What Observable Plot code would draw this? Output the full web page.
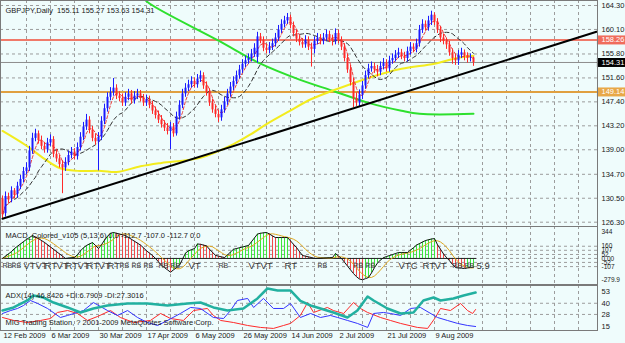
<!DOCTYPE html>
<html><head><meta charset="utf-8">
<script src="https://cdn.jsdelivr.net/npm/d3@7"></script>
<script src="https://cdn.jsdelivr.net/npm/@observablehq/plot@0.6"></script>
<style>
body{margin:0;background:#effcfc;}
#wrap{position:relative;width:625px;height:343px;overflow:hidden;background:#effcfc;}
#wrap > div{position:absolute;left:0;}
svg{display:block}
</style></head><body>
<div id="wrap"><div id="p1" style="top:0"></div><div id="p2" style="top:226px"></div><div id="p3" style="top:285px"></div></div>
<script>
// ---------- DATA (bar index 0..157, daily GBPJPY) ----------
const openP = [130.4,127.8,130.8,130.4,131.8,131.2,132.6,133.8,135.2,135.8,
138.8,141.0,141.8,140.6,139.6,139.0,140.2,140.8,138.2,137.4,
136.4,135.8,136.8,138.0,138.6,137.8,139.4,141.2,143.0,144.2,
142.4,141.0,140.4,141.2,144.0,146.2,148.2,149.0,149.8,148.4,
148.0,147.2,148.2,148.8,147.6,148.4,148.8,148.0,147.2,147.8,
146.8,145.8,145.0,144.2,143.4,142.8,142.2,143.0,141.8,144.8,
146.8,148.8,149.8,150.4,151.0,150.4,151.4,152.0,150.2,149.0,
147.2,146.0,145.2,144.6,146.0,147.4,148.8,150.0,151.0,152.0,
153.0,154.0,154.6,155.0,155.8,155.2,158.8,158.2,156.8,156.4,
157.0,157.6,158.6,160.0,161.0,161.6,162.2,160.8,159.4,158.4,
157.8,157.4,158.2,157.0,156.6,158.0,158.6,158.0,158.6,159.2,
158.4,158.0,159.4,158.2,157.0,155.0,153.0,150.8,148.0,147.2,
148.6,150.2,152.0,153.2,153.6,153.0,152.6,153.6,154.2,153.2,
154.6,155.0,155.6,156.0,155.4,155.0,156.2,157.0,156.6,157.6,
160.0,161.0,160.4,161.6,162.6,161.4,160.0,158.6,158.0,157.4,
156.0,155.0,154.6,155.6,156.0,155.4,155.0,155.11];
const closeP = [127.6,130.8,130.2,131.8,131.0,132.6,133.8,135.2,135.8,138.8,
141.0,141.8,140.6,139.6,139.0,140.2,140.8,138.2,137.4,136.4,
135.8,136.8,138.0,138.6,137.8,139.4,141.2,143.0,144.2,142.4,
141.0,140.4,141.2,144.0,146.2,148.2,149.0,149.8,148.4,148.0,
147.2,148.2,148.8,147.6,148.4,148.8,148.0,147.2,147.8,146.8,
145.8,145.0,144.2,143.4,142.8,142.2,143.0,141.8,144.8,146.8,
148.8,149.8,150.4,151.0,150.4,151.4,152.0,150.2,149.0,147.2,
146.0,145.2,144.6,146.0,147.4,148.8,150.0,151.0,152.0,153.0,
154.0,154.6,155.0,155.8,156.8,158.8,158.2,156.8,156.4,157.0,
157.6,158.6,160.0,161.0,161.6,162.2,160.8,159.4,158.4,157.8,
157.4,158.2,157.0,156.6,158.0,158.6,158.0,158.6,159.2,158.4,
158.0,159.4,158.2,157.0,155.0,153.0,150.8,148.0,147.2,148.6,
150.2,152.0,153.2,153.6,153.0,152.6,153.6,154.2,153.2,154.6,
155.0,155.6,156.0,155.4,155.0,156.2,157.0,156.6,157.6,160.0,
161.0,160.4,161.6,162.6,161.4,160.0,158.6,158.0,157.4,156.0,
155.0,154.6,155.6,156.0,155.4,155.0,155.11,154.31];
const highP = [130.9,131.6,131.4,132.5,132.2,133.3,134.5,135.9,136.7,139.6,
141.9,142.6,142.3,141.4,140.3,141.0,141.6,141.3,139.0,138.0,
137.1,137.6,138.8,139.4,139.2,140.2,142.0,143.8,145.2,144.8,
143.1,141.8,142.0,144.8,147.0,149.0,149.9,151.5,150.4,149.2,
148.8,149.0,149.6,149.4,149.2,149.6,149.4,148.7,148.6,148.4,
147.5,146.5,145.8,145.0,144.1,143.6,143.8,143.6,145.6,147.6,
149.6,150.6,151.2,151.8,151.6,152.2,152.8,152.5,150.9,149.7,
147.9,146.7,145.9,146.8,148.2,149.6,150.8,151.8,152.8,153.8,
154.8,155.4,155.8,156.6,157.6,159.6,159.4,158.8,157.5,157.8,
158.4,159.4,160.8,161.8,162.4,162.9,162.6,161.4,160.0,159.0,
158.5,159.0,158.8,157.7,158.8,159.4,159.2,159.4,160.0,159.8,
159.1,160.2,160.0,158.8,157.6,155.7,153.8,151.5,149.0,149.5,
151.0,152.8,154.0,154.4,154.2,153.8,154.4,155.0,154.8,155.4,
155.8,156.4,156.8,156.6,156.1,157.0,157.8,157.6,158.4,160.8,
161.8,161.6,162.4,163.3,163.0,162.0,160.6,159.3,158.6,158.0,
156.7,155.8,156.4,156.8,156.5,156.0,155.8,155.27];
const lowP = [126.9,127.2,129.6,129.7,130.4,130.5,132.0,133.2,134.6,135.2,
138.2,140.4,140.0,139.0,138.4,138.4,139.6,137.6,136.8,135.8,
131.3,135.2,136.2,137.4,137.2,137.2,138.8,140.6,142.4,141.8,
140.4,139.8,135.3,140.6,143.4,145.6,147.6,148.4,147.8,147.4,
146.6,146.6,147.6,147.0,147.0,147.8,147.4,146.6,146.6,146.2,
145.2,144.4,143.6,142.8,142.2,141.6,139.0,141.2,141.4,144.2,
146.2,148.2,149.2,149.8,149.8,149.8,150.8,149.6,148.4,146.6,
145.4,144.6,143.8,144.0,145.4,146.8,148.2,149.4,150.4,151.4,
152.4,153.4,154.0,154.4,155.2,154.2,157.6,156.2,155.8,155.8,
156.4,157.0,158.0,159.4,160.4,161.0,160.2,158.8,157.8,157.2,
156.8,156.8,156.4,153.5,155.8,157.4,157.4,157.4,158.0,157.8,
157.2,157.4,157.6,156.4,154.4,152.4,150.2,146.4,146.6,146.6,
147.8,149.6,151.4,152.6,152.4,151.8,152.0,153.0,152.6,152.6,
154.0,154.4,155.0,154.8,154.4,154.4,155.6,156.0,156.0,157.0,
159.4,159.8,159.8,160.8,160.8,159.4,157.8,157.4,156.6,155.4,
154.0,153.8,153.8,155.0,154.6,154.2,154.4,153.63];

// long moving averages (bar index, price)
const yellowIdx = [0,8,14,19,25,33,38,46,53,66,77,83,88,95,103,110,122,133,144,152,157];
const yellowVal = [142.3,139.7,137.4,135.8,135.3,135.3,135.1,136.1,136.7,137.6,140.0,141.8,143.5,145.6,147.9,149.35,151.6,153.2,154.1,155.15,155.5];
const greenIdx = [46,49,72,86,99,110,122,133,139,157];
const greenVal = [166.1,164.65,158.14,154.1,151.3,149.35,147.23,145.83,145.3,145.3];
const trendIdx = [0,198];
const trendVal = [126.9,159.7];

// horizontal levels
const levelVal = [158.26,154.31,149.14];
const levelLabel = ["158.26","154.31","149.14"];
const levelLineColor = ["#f07a6a","#8c8c8c","#e0a040"];
const levelLineWidth = [2,1,2];
const levelBoxColor = ["#f06c5c","#000000","#e8a848"];

const priceTicks = [164.30,160.10,155.80,151.60,147.40,143.20,139.00,134.70,130.50,126.30];

// MACD histogram (5,13,6)
const macdHist = [0,30,60,90,130,160,190,220,250,275,
300,280,260,235,210,180,150,120,90,60,
30,0,5,10,12,50,100,140,170,190,
208,170,130,180,240,290,330,340,330,320,
310,300,275,250,225,200,175,140,100,70,
38,0,-45,-90,-120,-150,-180,-150,-120,-90,
-10,70,100,115,130,190,185,175,165,120,
80,40,30,20,12,45,85,120,130,140,
150,160,170,220,270,320,330,336,340,320,
295,274,274,274,274,274,230,185,143,90,
38,30,20,12,0,2,4,6,8,10,
12,64,30,0,-50,-100,-150,-198,-240,-270,
-279,-265,-250,-190,-120,-60,-20,10,25,38,
50,65,77,77,77,77,110,140,175,195,
215,235,245,255,260,180,120,60,12,-30,
-80,-120,-125,-128,-132,-125,-118,-112.7];
const macdTicks = [344,160,107,52,0,-52,-107,-279.9];
const macdTickLabel = ["344","160","107","52","0.00","-52","-107","-279.9"];
const sigIdx = [0,3,7,11,14,18,21,25,28,32,35,39,43,47,52,56,62,72,82,86,94,105,117,121,132,140,144,150,154,158];
const sigText = ["RB","RB","VT","VT","RT","VT","RT","VT","RT","VT","RT","RB","RB","RB","RB","RB","VT","RB","VT","VT","RT","RB","RB","RB","VTC","RT","VT","RB","RB","5.9"];

// ADX(14)
const adxIdx = [0,3.7,8.3,10.3,13.7,17,21.7,26,30.3,35,41.7,48.3,55,61.7,66,70.3,75,80.3,85,88.3,91.7,96,99.3,102.7,106,110.3,115,118.3,121.7,123.7,128.3,132.7,137,140.3,143.7,146,150.3,153.7,157.7];
const adxVal = [32.2,35.5,43.0,48.4,46.2,40.8,35.5,30.1,34.4,37.6,39.8,39.8,37.6,39.8,40.8,35.5,32.2,34.4,45.2,55.9,53.8,53.8,42.7,37.6,34.4,30.1,24.7,32.2,47.3,43.0,34.4,29.0,30.1,43.0,46.2,43.0,45.2,48.4,51.6];
const pdiIdx = [0,2.7,5,7,9.3,11.7,15,19.3,21.7,27,30.3,35,38.3,41.7,45,48.3,51.7,55,59.3,62.7,66,70.3,73.7,76,78.3,81.7,83.7,87,90.3,93.7,96,99.3,102.7,106,109.3,111.7,115,118.3,121.7,123.7,127,129.3,132.7,136,139.3,145,148.3,151.7,155,157.7];
const pdiVal = [29.0,32.2,34.4,37.6,43.0,39.8,34.4,24.7,26.9,32.2,40.8,32.2,26.9,32.2,24.7,19.3,16.1,21.5,29.0,35.5,34.4,24.7,23.6,32.2,43.0,45.2,35.5,45.2,34.4,34.4,39.8,24.7,29.0,24.7,26.9,24.7,21.5,18.3,14.0,29.0,30.1,29.0,26.9,34.4,35.5,24.7,21.5,18.3,16.1,15.0];
const mdiIdx = [0,3.7,8.3,12.7,16,18.3,21.7,25,28.3,31.7,36,39.3,43.7,49.3,52.7,56,60.3,63.7,68.3,70.3,72.7,77,81.7,86,90.3,93.7,96,99.3,101.7,103.7,108.3,110.3,113.7,117,119.3,121.7,126,129.3,132.7,138.3,141.7,144.3,146,149.3,152.7,155,156.7,157.7];
const mdiVal = [24.7,21.5,19.3,21.5,23.6,30.1,32.2,29.0,21.5,25.8,32.2,24.7,19.3,21.5,29.0,23.6,21.5,32.2,34.4,26.9,21.5,19.3,16.1,14.0,12.9,16.1,18.3,26.9,40.8,30.1,35.5,32.2,29.0,40.8,34.4,30.1,24.7,21.5,18.3,14.0,12.9,24.7,34.4,32.2,39.8,32.2,29.0,33.3];
const adxTicks = [53,40,28,15];

const dateIdx = [0,16,32,48,64,80,96,112,128,144];
const dateLabel = ["12 Feb 2009","6 Mar 2009","30 Mar 2009","17 Apr 2009","6 May 2009","26 May 2009","14 Jun 2009","2 Jul 2009","21 Jul 2009","9 Aug 2009"];
const gridIdx = d3.range(8, 198, 8);

// ---------- DRAWING ----------
const FONT = "'Liberation Sans', Arial, sans-serif";
const GRID = "#9c9c9c";
const FRAME = "#7a7a7a";
const TXT = "#1a1a1a";
const xDom = [0, 198];
const bars = closeP.map((c, i) => ({i, o: openP[i], h: highP[i], l: lowP[i], c, m: macdHist[i]}));
const pts = (ix, vs) => ix.map((i, k) => ({i, v: vs[k]}));
const levels = levelVal.map((v, k) => ({v, label: levelLabel[k], line: levelLineColor[k], w: levelLineWidth[k], box: levelBoxColor[k]}));

function base(h, mb, yDomain, yRange) {
  return {
    width: 625, height: h, marginLeft: 0, marginRight: 28, marginTop: 0, marginBottom: mb,
    x: {domain: xDom, range: [2, 596], axis: null},
    y: {domain: yDomain, range: yRange, axis: null},
    style: {background: "transparent", fontFamily: FONT, fontSize: "7.5px", color: TXT}
  };
}
const vgrid = () => Plot.ruleX(gridIdx, {stroke: GRID, strokeDasharray: "3,3", strokeWidth: 1});

const p1 = Plot.plot({
  ...base(226, 0, [126.3, 164.3], [221.7, 5]),
  marks: [
    Plot.ruleY(priceTicks, {stroke: GRID, strokeDasharray: "3,3"}),
    vgrid(),
    Plot.ruleY(levels, {y: "v", stroke: "line", strokeWidth: "w"}),
    Plot.line(pts(greenIdx, greenVal), {x: "i", y: "v", stroke: "#2ee02e", strokeWidth: 2, curve: "catmull-rom"}),
    Plot.line(pts(yellowIdx, yellowVal), {x: "i", y: "v", stroke: "#f3ec1e", strokeWidth: 2, curve: "catmull-rom"}),
    Plot.line(bars, Plot.windowY({k: 12, anchor: "end"}, {x: "i", y: "c", stroke: "#333", strokeWidth: 1, strokeDasharray: "4,3"})),
    Plot.line(bars, Plot.windowY({k: 4, anchor: "end"}, {x: "i", y: "c", stroke: "#e84040", strokeWidth: 1, strokeDasharray: "3,2"})),
    Plot.ruleX(bars, {x: "i", y1: "l", y2: "h", stroke: d => d.c >= d.o ? "#1a1aff" : "#ff2a2a", strokeWidth: 1}),
    Plot.ruleX(bars, {x: "i", y1: "o", y2: "c", stroke: d => d.c >= d.o ? "#1a1aff" : "#ff2a2a", strokeWidth: 2}),
    Plot.line(pts(trendIdx, trendVal), {x: "i", y: "v", stroke: "#000", strokeWidth: 2}),
    Plot.text(priceTicks, {y: d => d, text: d => d.toFixed(2), frameAnchor: "right", dx: 4, textAnchor: "start", fill: TXT}),
    Plot.ruleY(levels, {y: "v", x1: xDom[1] + 0.3, x2: xDom[1] + 10, stroke: "box", strokeWidth: 9}),
    Plot.text(levels, {y: "v", text: "label", frameAnchor: "right", dx: 4, textAnchor: "start", fill: "#ffffff"}),
    Plot.text(["GBPJPY,Daily  155.11 155.27 153.63 154.31"], {text: d => d, frameAnchor: "top-left", dx: 5, dy: 7, textAnchor: "start", fill: TXT}),
    Plot.frame({stroke: FRAME})
  ]
});
document.getElementById("p1").append(p1);

const p2 = Plot.plot({
  ...base(59, 1, [-279.9, 344], [53.3, 5.7]),
  marks: [
    Plot.ruleY(macdTicks.slice(1, -1), {stroke: GRID, strokeDasharray: "3,3"}),
    vgrid(),
    Plot.ruleX(bars, {x: "i", y1: 0, y2: "m", stroke: d => (d.i === 0 || d.m >= macdHist[d.i - 1]) ? "#3ce83c" : "#f24a4a", strokeWidth: 1}),
    Plot.ruleY([0], {x1: 0, x2: 158, stroke: "#222"}),
    Plot.line(bars, Plot.windowY({k: 6, anchor: "end"}, {x: "i", y: "m", stroke: "#e0a820", strokeWidth: 1})),
    Plot.line(bars, {x: "i", y: "m", stroke: "#111", strokeWidth: 1}),
    Plot.text(sigIdx.map((i, k) => ({i, t: sigText[k]})), {x: "i", y: -95, text: "t", fill: "#3a3a3a", fontSize: d => d.t === "RB" ? 7 : 9.5, textAnchor: "start"}),
    Plot.text(macdTicks, {y: d => d, text: (d, k) => macdTickLabel[k], frameAnchor: "right", dx: 4, textAnchor: "start", fill: TXT, fontSize: 6.5}),
    Plot.text(["MACD_Colored_v105 (5,13,6) 0.0 -112.7 -107.0 -112.7 0.0"], {text: d => d, frameAnchor: "top-left", dx: 5, dy: 6, textAnchor: "start", fill: TXT}),
    Plot.frame({stroke: FRAME})
  ]
});
document.getElementById("p2").append(p2);

const p3 = Plot.plot({
  ...base(58, 13, [15, 53], [41, 5.7]),
  marks: [
    Plot.ruleY([40, 28], {stroke: GRID, strokeDasharray: "3,3"}),
    vgrid(),
    Plot.line(pts(mdiIdx, mdiVal), {x: "i", y: "v", stroke: "#ff2a2a", strokeWidth: 1}),
    Plot.line(pts(pdiIdx, pdiVal), {x: "i", y: "v", stroke: "#3333ff", strokeWidth: 1}),
    Plot.line(pts(adxIdx, adxVal), {x: "i", y: "v", stroke: "#22b0a0", strokeWidth: 2.5}),
    Plot.text(adxTicks, {y: d => d, text: d => String(d), frameAnchor: "right", dx: 4, textAnchor: "start", fill: TXT}),
    Plot.text(["ADX(14) 46.8426 +DI:6.7909 -DI:27.3016"], {text: d => d, frameAnchor: "top-left", dx: 5, dy: 7, textAnchor: "start", fill: TXT}),
    Plot.text(["MIG Trading Station, ? 2001-2009 MetaQuotes Software Corp."], {text: d => d, frameAnchor: "bottom-left", dx: 5, dy: -6, textAnchor: "start", fill: TXT}),
    Plot.text(dateIdx.map((i, k) => ({i, t: dateLabel[k]})), {x: "i", text: "t", frameAnchor: "bottom", dy: 7.5, dx: 1, textAnchor: "start", fill: TXT}),
    Plot.frame({stroke: FRAME})
  ]
});
document.getElementById("p3").append(p3);
</script>
</body></html>
